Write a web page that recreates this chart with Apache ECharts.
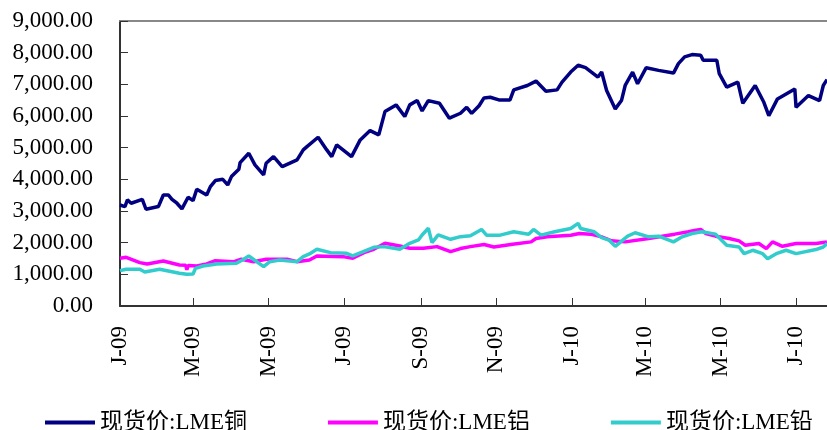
<!DOCTYPE html>
<html>
<head>
<meta charset="utf-8">
<script src="https://cdn.jsdelivr.net/npm/echarts@6/dist/echarts.min.js"></script>
<style>
  html, body { margin: 0; padding: 0; background: #fff; }
  #chart { width: 827px; height: 430px; }
</style>
</head>
<body>
<div id="chart"></div>
<script>
// LME spot prices, 2009-01 to 2010-07 (USD/t)
const seriesNames = ['现货价:LME铜', '现货价:LME铝', '现货价:LME铅'];
const seriesColors = ['#000080', '#FF00FF', '#33CCCC'];

const copper = [
  ['2009-01-01', 3190], ['2009-01-05', 3140], ['2009-01-07', 3350], ['2009-01-10', 3245],
  ['2009-01-19', 3370], ['2009-01-22', 3055], ['2009-02-01', 3140], ['2009-02-05', 3507],
  ['2009-02-09', 3507], ['2009-02-12', 3370], ['2009-02-16', 3245], ['2009-02-20', 3065],
  ['2009-02-25', 3435], ['2009-03-01', 3327], ['2009-03-04', 3687], ['2009-03-12', 3507],
  ['2009-03-15', 3770], ['2009-03-19', 3960], ['2009-03-25', 4000], ['2009-03-29', 3823],
  ['2009-04-01', 4086], ['2009-04-07', 4318], ['2009-04-08', 4529], ['2009-04-15', 4823],
  ['2009-04-20', 4455], ['2009-04-27', 4139], ['2009-04-29', 4508], ['2009-05-05', 4718],
  ['2009-05-12', 4402], ['2009-05-24', 4613], ['2009-05-29', 4929], ['2009-06-01', 5034],
  ['2009-06-10', 5330], ['2009-06-17', 4929], ['2009-06-21', 4718], ['2009-06-25', 5087],
  ['2009-07-07', 4718], ['2009-07-14', 5245], ['2009-07-22', 5540], ['2009-07-29', 5403],
  ['2009-08-03', 6139], ['2009-08-12', 6351], ['2009-08-19', 5982], ['2009-08-23', 6351],
  ['2009-08-29', 6487], ['2009-09-02', 6161], ['2009-09-07', 6487], ['2009-09-16', 6403],
  ['2009-09-24', 5930], ['2009-10-03', 6087], ['2009-10-08', 6275], ['2009-10-12', 6082],
  ['2009-10-18', 6325], ['2009-10-22', 6572], ['2009-10-27', 6591], ['2009-11-03', 6509],
  ['2009-11-12', 6509], ['2009-11-15', 6825], ['2009-11-26', 6964], ['2009-12-03', 7103],
  ['2009-12-11', 6784], ['2009-12-20', 6825], ['2009-12-24', 7071], ['2009-12-31', 7387],
  ['2010-01-06', 7602], ['2010-01-12', 7526], ['2010-01-22', 7229], ['2010-01-25', 7387],
  ['2010-01-29', 6806], ['2010-02-05', 6224], ['2010-02-10', 6487], ['2010-02-13', 6964],
  ['2010-02-19', 7387], ['2010-02-23', 7017], ['2010-03-02', 7526], ['2010-03-12', 7441],
  ['2010-03-24', 7355], ['2010-03-28', 7652], ['2010-04-02', 7867], ['2010-04-08', 7940],
  ['2010-04-15', 7918], ['2010-04-17', 7760], ['2010-04-28', 7760], ['2010-04-30', 7336],
  ['2010-05-06', 6910], ['2010-05-15', 7071], ['2010-05-19', 6401], ['2010-05-29', 6964],
  ['2010-06-05', 6433], ['2010-06-09', 6009], ['2010-06-16', 6540], ['2010-06-30', 6856],
  ['2010-07-01', 6275], ['2010-07-11', 6645], ['2010-07-20', 6487], ['2010-07-23', 6964],
  ['2010-07-26', 7150]
];

const aluminium = [
  ['2009-01-01', 1507], ['2009-01-06', 1538], ['2009-01-17', 1369], ['2009-01-23', 1327],
  ['2009-02-05', 1422], ['2009-02-18', 1295], ['2009-02-23', 1290], ['2009-02-24', 1140],
  ['2009-02-25', 1280], ['2009-03-04', 1264], ['2009-03-12', 1327], ['2009-03-19', 1432],
  ['2009-04-03', 1400], ['2009-04-09', 1475], ['2009-04-19', 1400], ['2009-04-29', 1475],
  ['2009-05-16', 1475], ['2009-05-24', 1400], ['2009-06-03', 1453], ['2009-06-09', 1580],
  ['2009-06-30', 1559], ['2009-07-08', 1507], ['2009-07-17', 1685], ['2009-07-25', 1790],
  ['2009-08-03', 1980], ['2009-08-15', 1896], ['2009-08-23', 1822], ['2009-09-03', 1822],
  ['2009-09-14', 1875], ['2009-09-25', 1717], ['2009-10-03', 1813], ['2009-10-11', 1875],
  ['2009-10-22', 1940], ['2009-10-30', 1864], ['2009-11-14', 1950], ['2009-11-29', 2025],
  ['2009-12-03', 2130], ['2009-12-12', 2184], ['2009-12-31', 2237], ['2010-01-07', 2290],
  ['2010-01-16', 2269], ['2010-01-25', 2184], ['2010-02-02', 2057], ['2010-02-13', 2025],
  ['2010-03-04', 2130], ['2010-03-15', 2205], ['2010-03-25', 2269], ['2010-04-05', 2344],
  ['2010-04-11', 2395], ['2010-04-15', 2417], ['2010-04-19', 2290], ['2010-04-27', 2205],
  ['2010-05-08', 2130], ['2010-05-16', 2057], ['2010-05-21', 1918], ['2010-06-01', 1972],
  ['2010-06-07', 1813], ['2010-06-12', 2025], ['2010-06-20', 1886], ['2010-07-01', 1972],
  ['2010-07-17', 1972], ['2010-07-26', 2025]
];

const lead = [
  ['2009-01-01', 1116], ['2009-01-06', 1159], ['2009-01-17', 1159], ['2009-01-21', 1074],
  ['2009-02-02', 1159], ['2009-02-18', 1032], ['2009-02-24', 1000], ['2009-03-01', 1011],
  ['2009-03-03', 1190], ['2009-03-09', 1264], ['2009-03-20', 1327], ['2009-04-05', 1348],
  ['2009-04-11', 1475], ['2009-04-15', 1580], ['2009-04-27', 1243], ['2009-05-02', 1400],
  ['2009-05-10', 1453], ['2009-05-24', 1400], ['2009-05-29', 1559], ['2009-06-03', 1643],
  ['2009-06-09', 1790], ['2009-06-20', 1685], ['2009-07-03', 1664], ['2009-07-08', 1580],
  ['2009-07-25', 1854], ['2009-08-02', 1875], ['2009-08-15', 1790], ['2009-08-23', 1980],
  ['2009-08-30', 2085], ['2009-09-02', 2243], ['2009-09-07', 2454], ['2009-09-10', 2000],
  ['2009-09-15', 2243], ['2009-09-25', 2106], ['2009-10-03', 2190], ['2009-10-11', 2220],
  ['2009-10-20', 2417], ['2009-10-24', 2237], ['2009-11-04', 2237], ['2009-11-15', 2344],
  ['2009-11-27', 2269], ['2009-12-01', 2417], ['2009-12-07', 2237], ['2009-12-18', 2344],
  ['2009-12-31', 2449], ['2010-01-06', 2610], ['2010-01-08', 2449], ['2010-01-19', 2344],
  ['2010-01-25', 2161], ['2010-01-31', 2079], ['2010-02-05', 1886], ['2010-02-15', 2205],
  ['2010-02-21', 2313], ['2010-03-04', 2184], ['2010-03-12', 2205], ['2010-03-24', 2025],
  ['2010-03-31', 2184], ['2010-04-08', 2290], ['2010-04-16', 2344], ['2010-04-27', 2269],
  ['2010-05-06', 1918], ['2010-05-16', 1864], ['2010-05-20', 1653], ['2010-05-27', 1760],
  ['2010-06-04', 1653], ['2010-06-08', 1494], ['2010-06-15', 1653], ['2010-06-23', 1760],
  ['2010-07-01', 1653], ['2010-07-17', 1782], ['2010-07-23', 1864], ['2010-07-26', 1972]
];

// Y axis range
const yMin = 0, yMax = 9000, yStep = 1000;
// Month initials used in the date labels
const monthLetters = ['J', 'F', 'M', 'A', 'M', 'J', 'J', 'A', 'S', 'O', 'N', 'D'];
const firstDay = '2009-01-01', lastDay = '2010-07-26';

// Calendar-day categories so the axis is linear in time
const days = [];
for (let t = Date.parse(firstDay + 'T00:00:00Z'); t <= Date.parse(lastDay + 'T00:00:00Z'); t += 86400000) {
  days.push(new Date(t).toISOString().slice(0, 10));
}
const dayIndex = {};
days.forEach((d, i) => { dayIndex[d] = i; });

// A tick/label on the first day of every second month (Jan, Mar, May, ...)
function isMarkDay(i) {
  const d = days[i];
  const m = +d.slice(5, 7);
  return d.slice(8) === '01' && m % 2 === 1;
}
function dateLabel(d) {
  return monthLetters[+d.slice(5, 7) - 1] + '-' + d.slice(2, 4);
}

const serif = "'Liberation Serif', 'Times New Roman', serif";
const legendFont = "'Liberation Serif', 'Noto Sans CJK SC', serif";

const chart = echarts.init(document.getElementById('chart'), null, { renderer: 'canvas' });
chart.setOption({
  animation: false,
  backgroundColor: '#ffffff',
  grid: { left: 120, top: 21, right: 0, bottom: 124, containLabel: false },
  legend: {
    left: 40,
    top: 406,
    icon: 'rect',
    itemWidth: 50,
    itemHeight: 4,
    itemGap: 81,
    textStyle: { color: '#000', fontSize: 23, fontFamily: legendFont },
    data: seriesNames
  },
  xAxis: [
    {
      type: 'category',
      data: days,
      boundaryGap: false,
      axisLine: { lineStyle: { color: '#333', width: 2 } },
      axisTick: {
        inside: true, length: 8,
        interval: (i) => isMarkDay(i),
        lineStyle: { color: '#333', width: 1 }
      },
      axisLabel: {
        interval: (i) => isMarkDay(i),
        rotate: 90,
        margin: 20,
        color: '#000',
        fontSize: 23,
        fontFamily: serif,
        formatter: (v) => dateLabel(v)
      },
      splitLine: { show: false }
    },
    {
      type: 'category',
      data: days,
      position: 'top',
      boundaryGap: false,
      axisLine: { lineStyle: { color: '#888', width: 2 } },
      axisTick: { show: false },
      axisLabel: { show: false },
      splitLine: { show: false }
    }
  ],
  yAxis: {
    type: 'value',
    min: yMin,
    max: yMax,
    interval: yStep,
    axisLine: { show: true, lineStyle: { color: '#333', width: 2 } },
    axisTick: { show: true, inside: true, length: 8, lineStyle: { color: '#333', width: 1 } },
    axisLabel: {
      margin: 27,
      color: '#000',
      fontSize: 23,
      fontFamily: serif,
      formatter: (v) => v.toLocaleString('en-US', { minimumFractionDigits: 2, maximumFractionDigits: 2 })
    },
    splitLine: { show: false }
  },
  series: [copper, aluminium, lead].map((arr, k) => ({
    name: seriesNames[k],
    type: 'line',
    showSymbol: false,
    symbol: 'none',
    color: seriesColors[k],
    lineStyle: { color: seriesColors[k], width: 3.5 },
    data: arr.map(([d, v]) => [dayIndex[d], v])
  }))
});
</script>
</body>
</html>
